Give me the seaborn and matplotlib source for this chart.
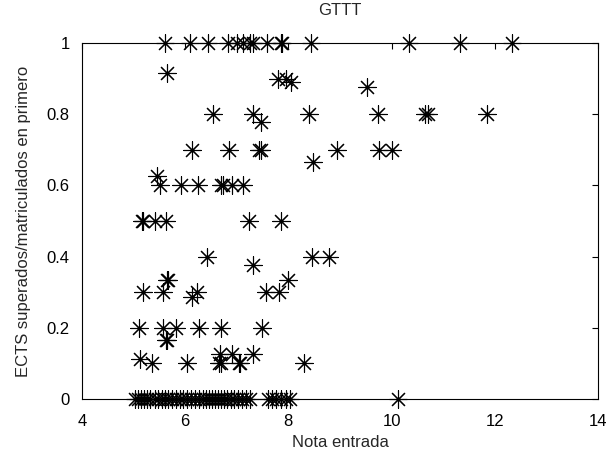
import matplotlib
matplotlib.use("Agg")
import matplotlib.pyplot as plt
import seaborn as sns
import pandas as pd

# Entry grade of each student and share of first-year ECTS passed / enrolled
nota_1 = [5.61, 6.09, 6.44, 6.83, 7.00, 7.12, 7.26, 7.31, 7.59, 7.85, 7.88,
          8.44, 10.34, 11.33, 12.33]
nota_high = [5.65, 7.80, 7.95, 8.05, 9.52,
             6.54, 7.31, 8.40, 9.74, 10.65, 10.71, 11.85, 7.47,
             6.13, 6.85, 7.44, 7.46, 8.94, 9.76, 10.01, 8.48]
ratio_high = [0.917, 0.9, 0.9, 0.889, 0.875,
              0.8, 0.8, 0.8, 0.8, 0.8, 0.8, 0.8, 0.778,
              0.7, 0.7, 0.7, 0.7, 0.7, 0.7, 0.7, 0.667]
nota_mid = [5.45, 5.51, 5.92, 6.25, 6.70, 6.73, 6.91, 7.12,
            5.17, 5.19, 5.41, 5.63, 7.24, 7.86,
            6.42, 8.46, 8.79, 7.31,
            5.64, 5.67, 7.99,
            5.18, 5.57, 6.23, 7.57, 7.82, 6.13]
ratio_mid = [0.625, 0.6, 0.6, 0.6, 0.6, 0.6, 0.6, 0.6,
             0.5, 0.5, 0.5, 0.5, 0.5, 0.5,
             0.4, 0.4, 0.4, 0.375,
             0.333, 0.333, 0.333,
             0.3, 0.3, 0.3, 0.3, 0.3, 0.286]
nota_low = [5.10, 5.57, 5.82, 6.27, 6.69, 7.49, 5.62, 5.65,
            5.12, 6.67, 6.91, 7.31,
            5.36, 6.03, 6.66, 6.69, 7.04, 7.07, 8.30]
ratio_low = [0.2, 0.2, 0.2, 0.2, 0.2, 0.2, 0.167, 0.167,
             0.111, 0.125, 0.125, 0.125,
             0.1, 0.1, 0.1, 0.1, 0.1, 0.1, 0.1]
nota_0 = [5.03, 5.09, 5.14, 5.20, 5.26, 5.32, 5.41, 5.47, 5.55, 5.61, 5.67,
          5.74, 5.82, 5.90, 5.96, 6.03, 6.11, 6.19, 6.27, 6.34, 6.40, 6.46,
          6.52, 6.58, 6.64, 6.69, 6.75, 6.81, 6.89, 6.95, 7.02, 7.10, 7.18,
          7.26, 7.60, 7.68, 7.76, 7.86, 7.95, 8.03, 10.12]

x_ticks = [4, 6, 8, 10, 12, 14]
y_ticks = [0, 0.2, 0.4, 0.6, 0.8, 1]
y_tick_labels = ["0", "0.2", "0.4", "0.6", "0.8", "1"]

df = pd.DataFrame({
    "nota": nota_1 + nota_high + nota_mid + nota_low + nota_0,
    "ratio": [1.0] * len(nota_1) + ratio_high + ratio_mid + ratio_low
             + [0.0] * len(nota_0),
})

sns.set_style("white")
plt.rcParams["font.family"] = ["Liberation Sans", "DejaVu Sans"]

fig = plt.figure(figsize=(6.12, 4.57), dpi=100)
ax = fig.add_axes([0.134, 0.127, 0.843, 0.779])

sns.scatterplot(data=df, x="nota", y="ratio", ax=ax, marker=(8, 2, 0),
                s=160, color="black", edgecolor="black", linewidth=0.8,
                clip_on=False, legend=False)

ax.set_xlim(4, 14)
ax.set_ylim(0, 1)
ax.set_xticks(x_ticks)
ax.set_yticks(y_ticks)
ax.set_yticklabels(y_tick_labels)
ax.tick_params(direction="in", length=4, width=0.8, labelsize=12,
               top=True, right=True, colors="black")
ax.tick_params(axis="x", pad=11)
ax.tick_params(axis="y", pad=9)
for sp in ax.spines.values():
    sp.set_visible(True)
    sp.set_color("black")
    sp.set_linewidth(0.8)

ax.set_title("GTTT", fontsize=12, pad=20)
ax.set_xlabel("Nota entrada", fontsize=12, labelpad=4)
ax.set_ylabel("ECTS superados/matriculados en primero", fontsize=12,
              labelpad=11)

fig.savefig("out.png", dpi=100, facecolor="white")
